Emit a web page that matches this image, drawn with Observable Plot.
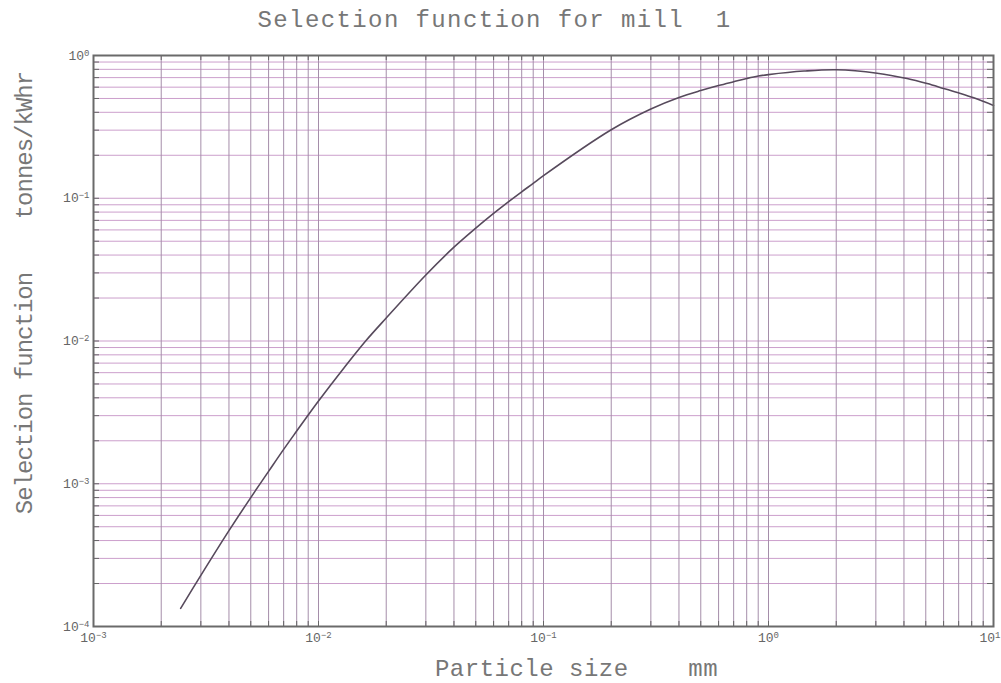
<!DOCTYPE html>
<html><head><meta charset="utf-8">
<script src="https://cdn.jsdelivr.net/npm/d3@7"></script>
<script src="https://cdn.jsdelivr.net/npm/@observablehq/plot@0.6"></script>
<style>body{margin:0;background:#fff}</style>
</head><body><div id="chart"></div>
<script>
const titleText = "Selection function for mill  1";
const xLabelText = "Particle size    mm";
const yLabelText = "Selection function    tonnes/kWhr";

// particle size (mm) and selection function (tonnes/kWhr)
const particleSize = [0.00244, 0.003, 0.004, 0.005, 0.006, 0.007, 0.008, 0.009, 0.01, 0.013, 0.0162, 0.02, 0.03, 0.04, 0.05, 0.06, 0.07, 0.08, 0.09, 0.1, 0.2, 0.3, 0.4, 0.5, 0.6, 0.7, 0.8, 0.9, 1.0, 1.44, 2.0, 3.04, 4.13, 5.07, 6.0, 7.13, 8.17, 10];
const selection = [1.34e-4, 2.28e-4, 4.69e-4, 8.0e-4, 1.22e-3, 1.74e-3, 2.34e-3, 3.03e-3, 3.8e-3, 6.5e-3, 0.01, 0.0145, 0.029, 0.0454, 0.0617, 0.0782, 0.0947, 0.111, 0.127, 0.144, 0.302, 0.422, 0.508, 0.568, 0.616, 0.655, 0.69, 0.718, 0.735, 0.778, 0.795, 0.752, 0.69, 0.636, 0.588, 0.542, 0.505, 0.447];

const xDecades = [1e-3, 1e-2, 1e-1, 1, 10];
const yDecades = [1e-4, 1e-3, 1e-2, 1e-1, 1];
const xTickExponents = ["\u22123", "\u22122", "\u22121", "0", "1"];
const yTickExponents = ["\u22124", "\u22123", "\u22122", "\u22121", "0"];
const gridMultipliers = [1, 2, 3, 4, 5, 6, 7, 8, 9];

const xGrid = xDecades.slice(0, -1).flatMap(d => gridMultipliers.map(m => m * d)).concat([xDecades[xDecades.length - 1]]);
const yGrid = yDecades.slice(0, -1).flatMap(d => gridMultipliers.map(m => m * d)).concat([yDecades[yDecades.length - 1]]);

const points = particleSize.map((x, i) => ({x, y: selection[i]}));

const W = 1001, H = 683, mL = 93, mR = 8, mT = 55, mB = 57;
const innerW = W - mL - mR, innerH = H - mT - mB;
const SEP = "\u2009^";
const fmtX = d => "10" + SEP + xTickExponents[Math.round(Math.log10(d)) + 3];
const fmtY = d => "10" + SEP + yTickExponents[Math.round(Math.log10(d)) + 4];

const chart = Plot.plot({
  width: W, height: H,
  marginLeft: mL, marginRight: mR, marginTop: mT, marginBottom: mB,
  style: {background: "#fff", fontFamily: "'Liberation Mono', 'DejaVu Sans Mono', monospace"},
  x: {type: "log", domain: [1e-3, 10]},
  y: {type: "log", domain: [1e-4, 1]},
  marks: [
    Plot.ruleY(yGrid, {y: d => d, stroke: "#cc9fcc", strokeWidth: 1}),
    Plot.ruleX(xGrid, {x: d => d, stroke: "#a58eaa", strokeWidth: 1}),
    Plot.ruleX(xGrid, {x: d => d, insetTop: innerH - 5, stroke: "#666", strokeWidth: 1}),
    Plot.ruleX(xGrid, {x: d => d, insetBottom: innerH - 5, stroke: "#666", strokeWidth: 1}),
    Plot.ruleY(yGrid, {y: d => d, insetRight: innerW - 6, stroke: "#666", strokeWidth: 1}),
    Plot.ruleY(yGrid, {y: d => d, insetLeft: innerW - 6, stroke: "#666", strokeWidth: 1}),
    Plot.line(points, {x: "x", y: "y", stroke: "#574a5c", strokeWidth: 1.6, curve: "catmull-rom"}),
    Plot.frame({stroke: "#6a6a6a", strokeWidth: 2}),
    Plot.axisX({ticks: xDecades, tickFormat: fmtX, tickSize: 0, tickPadding: 6, fontSize: 13, fill: "#666", label: null}),
    Plot.axisY({ticks: yDecades, tickFormat: fmtY, tickSize: 0, tickPadding: 4, fontSize: 13, fill: "#666", label: null}),
    Plot.text([titleText], {frameAnchor: "top", dx: -49, dy: -36, fontSize: 24, fill: "#777", textAnchor: "middle", lineAnchor: "middle"}),
    Plot.text([xLabelText], {frameAnchor: "bottom", dx: 33, dy: 42, fontSize: 24, fill: "#777", textAnchor: "middle", lineAnchor: "middle"}),
    Plot.text([yLabelText], {frameAnchor: "left", dx: -69, dy: -48, rotate: -90, fontSize: 24, fill: "#777", textAnchor: "middle", lineAnchor: "middle"})
  ]
});

const sel = d3.select(chart);
sel.selectAll("text").filter(function() { return this.textContent === titleText; }).attr("letter-spacing", 1.4);
sel.selectAll("text").filter(function() { return this.textContent === xLabelText; }).attr("letter-spacing", 0.5);
sel.selectAll("text").filter(function() { return this.textContent === yLabelText; }).attr("letter-spacing", -1);
// turn "10^e" tick labels into base + raised exponent
const lastX = "10" + SEP + xTickExponents[xTickExponents.length - 1];
sel.selectAll("text").each(function() {
  const t = this.textContent;
  const k = t.indexOf(SEP);
  if (k < 0) return;
  const isLastX = t === lastX && this.closest("[aria-label='x-axis tick label']");
  const base = t.slice(0, k), exp = t.slice(k + SEP.length);
  const node = d3.select(this);
  node.text(null);
  node.append("tspan").text(base);
  node.append("tspan").attr("dy", "-0.45em").attr("font-size", "9px").text(exp);
  if (isLastX) node.attr("text-anchor", "end").attr("dx", 7);
});
document.getElementById("chart").appendChild(chart);
</script>
</body></html>
